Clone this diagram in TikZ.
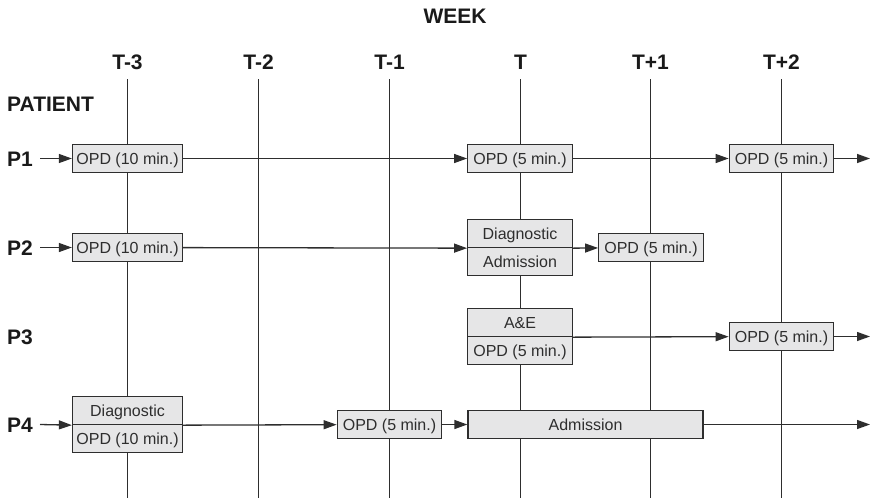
\documentclass[tikz,border=0pt]{standalone}
\usepackage{fontspec}
\setmainfont{Liberation Sans}
\usetikzlibrary{arrows.meta}
\definecolor{ink}{HTML}{2E2E2E}
\definecolor{boxfill}{HTML}{E6E6E7}
\definecolor{head}{HTML}{1A1A1A}
\begin{document}
\begin{tikzpicture}[x=1pt,y=-1pt,
  grid/.style={draw=ink, line width=1.2pt},
  flow/.style={draw=ink, line width=1.3pt, -{Triangle[length=13pt,width=9pt]}},
  box/.style={draw=ink, fill=boxfill, line width=1.3pt, inner sep=0pt,
    minimum height=28pt, text=ink, font=\fontsize{16}{18}\selectfont,
    text height=11.5pt, text depth=0pt},
  wide/.style={box, minimum width=110pt},
  narrow/.style={box, minimum width=104.5pt},
  head/.style={font=\bfseries\fontsize{21}{24}\selectfont, text=head,
    inner sep=0pt, text height=15pt, text depth=0pt}]
\useasboundingbox (0,0) rectangle (872,501);

% week columns
\node[head] (week) at (455,16) {WEEK};
\foreach \name/\lab/\x in {w1/T-3/127.5, w2/T-2/258.5, w3/T-1/389.5,
                           w4/T/520.5, w5/T+1/650.5, w6/T+2/781.5} {
  \node[head] (\name) at (\x,61.5) {\lab};
  \coordinate (\name top) at (\x,79);
  \coordinate (\name bot) at (\x,498);
  \draw[grid] (\name top) -- (\name bot);
}

% patient rows
\node[head, anchor=west] (patient) at (7,104) {PATIENT};
\node[head, anchor=west] (p1) at (7,158.5) {P1};
\node[head, anchor=west] (p2) at (7,247.5) {P2};
\node[head, anchor=west] (p3) at (7,336.5) {P3};
\node[head, anchor=west] (p4) at (7,424.5) {P4};
\coordinate (s1) at (40,158.5);
\coordinate (s2) at (40,247.5);
\coordinate (s4) at (40,424.5);
\coordinate (e1) at (870,158.5);
\coordinate (e3) at (870,336.5);
\coordinate (e4) at (870,424.5);

% P1
\node[wide]   (a1) at (127.5,158.5) {OPD (10 min.)};
\node[narrow] (a2) at (520,158.5) {OPD (5 min.)};
\node[narrow] (a3) at (781.5,158.5) {OPD (5 min.)};
% P2
\node[wide]   (b1)  at (127.5,247.5) {OPD (10 min.)};
\node[narrow] (b2t) at (520,233.5) {Diagnostic};
\node[narrow] (b2b) at (520,261.5) {Admission};
\node[narrow] (b3)  at (651,247.5) {OPD (5 min.)};
% P3
\node[narrow] (c1t) at (520,322.5) {A\&E};
\node[narrow] (c1b) at (520,350.5) {OPD (5 min.)};
\node[narrow] (c2)  at (781.5,336.5) {OPD (5 min.)};
% P4
\node[wide]   (d1t) at (127.5,410.5) {Diagnostic};
\node[wide]   (d1b) at (127.5,438.5) {OPD (10 min.)};
\node[narrow] (d2)  at (389.5,424.5) {OPD (5 min.)};
\node[box, minimum width=235pt] (d3) at (585.5,424.5) {Admission};

% pathways
\draw[flow] (s1) -- (a1);
\draw[flow] (a1) -- (a2);
\draw[flow] (a2) -- (a3);
\draw[flow] (a3) -- (e1);

\draw[flow] (s2) -- (b1);
\draw[flow] (b1) -- (b2t.south west);
\draw[flow] (b2t.south east) -- (b3);

\draw[flow] (c1t.south east) -- (c2);
\draw[flow] (c2) -- (e3);

\draw[flow] (s4) -- (d1t.south west);
\draw[flow] (d1t.south east) -- (d2);
\draw[flow] (d2) -- (d3);
\draw[flow] (d3) -- (e4);
\end{tikzpicture}
\end{document}
